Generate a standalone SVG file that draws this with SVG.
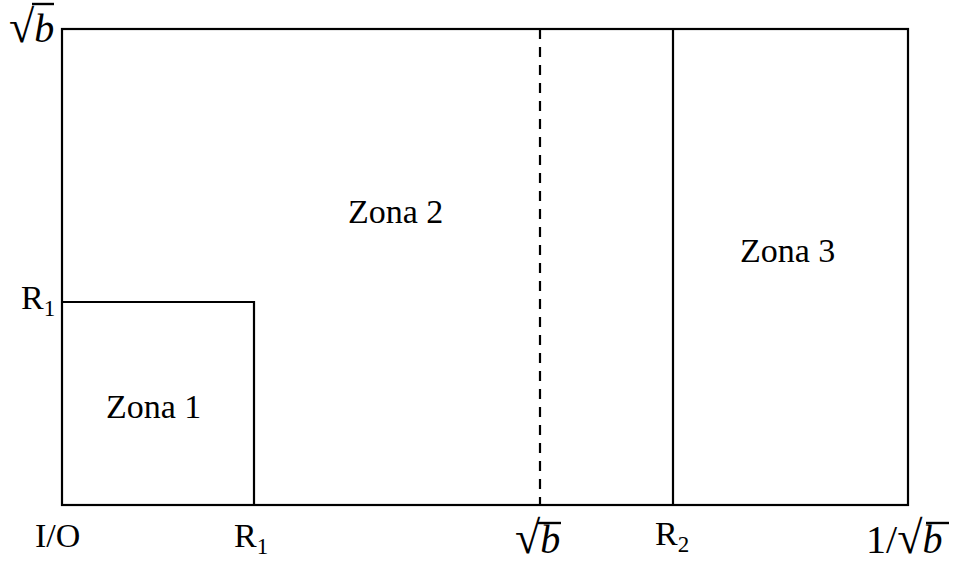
<svg xmlns="http://www.w3.org/2000/svg" width="954" height="563" viewBox="0 0 954 563">
<style>
.ln{stroke:#000;stroke-width:2.2;fill:none}
.t{font-family:"Liberation Serif","Times New Roman",serif;font-size:34px;fill:#000}
.s{font-size:23px}
.m{font-family:"Liberation Serif",serif;font-size:40px;fill:#000}
.rt{font-size:46px}
.bi{font-style:italic}
.ov{stroke:#000;stroke-width:2.4}
</style>
<rect width="954" height="563" fill="#fff"/>
<g id="connectors">
<rect class="ln" x="62" y="29" width="846" height="476"/>
<polyline class="ln" points="62,302 254,302 254,505"/>
<line class="ln" x1="540" y1="29" x2="540" y2="505" stroke-dasharray="10,8"/>
<line class="ln" x1="673" y1="29" x2="673" y2="505"/>
</g>
<g id="zona1"><text class="t" x="106" y="418">Zona 1</text></g>
<g id="zona2"><text class="t" x="348" y="223">Zona 2</text></g>
<g id="zona3"><text class="t" x="740" y="262">Zona 3</text></g>
<g id="labels">
<g id="sqrtb-top"><text class="m" x="9" y="42"><tspan class="rt">√</tspan><tspan class="bi">b</tspan></text><line class="ov" x1="32" y1="4" x2="54" y2="4"/></g>
<text class="t" x="21" y="309">R<tspan class="s" dy="7">1</tspan></text>
<text class="t" x="35" y="547">I/O</text>
<text class="t" x="234" y="547">R<tspan class="s" dy="7">1</tspan></text>
<g id="sqrtb-bottom"><text class="m" x="515" y="553"><tspan class="rt">√</tspan><tspan class="bi">b</tspan></text><line class="ov" x1="538" y1="523" x2="561" y2="523"/></g>
<text class="t" x="655" y="545">R<tspan class="s" dy="7">2</tspan></text>
<g id="inv-sqrtb"><text class="m" x="866" y="553">1/<tspan class="rt">√</tspan><tspan class="bi">b</tspan></text><line class="ov" x1="926" y1="523" x2="949" y2="523"/></g>
</g>
</svg>
